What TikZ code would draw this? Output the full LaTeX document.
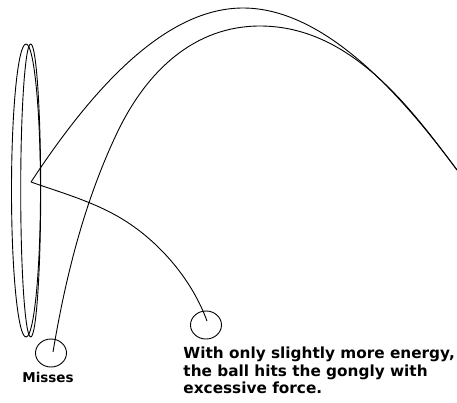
\documentclass[tikz,border=0pt]{standalone}
\usepackage{fontspec}
\setmainfont{DejaVu Sans}
\usetikzlibrary{shapes.geometric}
\begin{document}
\begin{tikzpicture}[x=1pt,y=-1pt,line width=0.9pt,line join=round,
  ball/.style={draw,ellipse,minimum width=31pt,minimum height=28pt,inner sep=0pt},
  gongring/.style={draw},
  traj/.style={draw},
  lbl/.style={font=\bfseries\fontsize{15.3}{17.5}\selectfont,inner sep=0pt,align=left},
  smalllbl/.style={font=\bfseries\fontsize{13.5}{16}\selectfont,inner sep=0pt}]
\useasboundingbox (0,0) rectangle (457,402);
% gong
\path[gongring] (26,190.5) ellipse [x radius=14.5, y radius=146.5];
\path[gongring] (30.7,190.5) ellipse [x radius=10, y radius=146.5];
% balls
\node[ball] (missball) at (51,353) {};
\node[ball] (hitball) at (206,325) {};
\coordinate (bounce) at (31,182);
\coordinate (misspt) at (53,352);
\coordinate (hitpt) at (207,321);
\coordinate (peakA) at (243,8);
\coordinate (peakB) at (260,26);
\coordinate (far) at (457,170);
\coordinate (midB) at (117,133);
\coordinate (midR) at (127,222);
% upper trajectory: bounce up and over
\path[traj] (bounce) .. controls (85,100) and (160,8) .. (peakA)
  .. controls (330,8) and (410,107) .. (far);
% rebound to hit ball
\path[traj] (bounce) .. controls (64,193.6) and (97.7,202.9) .. (midR)
  .. controls (162.2,244.9) and (192.6,281.5) .. (hitpt);
% lower trajectory: misses
\path[traj] (misspt) .. controls (65.5,277) and (84.4,201.5) .. (midB)
  .. controls (147,70) and (195,26) .. (peakB)
  .. controls (350,26) and (410,107) .. (far);
% labels
\node[smalllbl,anchor=base] (misses) at (48,382) {Misses};
\node[lbl,anchor=north west] (caption) at (183,346.5) {With only slightly more energy,\\the ball hits the gongly with\\excessive force.};
\end{tikzpicture}
\end{document}
